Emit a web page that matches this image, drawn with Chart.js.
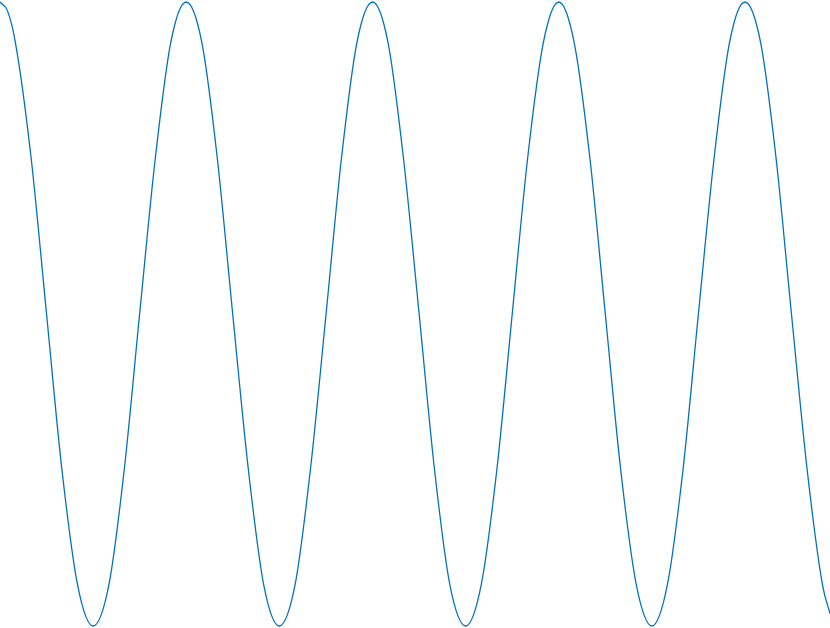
<!DOCTYPE html>
<html>
<head>
<meta charset="utf-8">
<script src="https://cdn.jsdelivr.net/npm/chart.js@4"></script>
<style>
  html, body { margin: 0; padding: 0; background: #ffffff; }
  .chart-container { width: 830px; height: 628px; position: relative; }
</style>
</head>
<body>
<div class="chart-container">
  <canvas id="wave"></canvas>
</div>
<script>
// values (x in radians, y amplitude)
const xValues = [
  0, 0.26, 0.52, 1.05, 1.57, 2.09, 2.62, 3.14, 3.67, 4.19, 4.71, 5.24, 5.76,
  6.28, 6.81, 7.33, 7.85, 8.38, 8.90, 9.42, 9.95, 10.47, 11.00, 11.52, 12.04,
  12.57, 13.09, 13.61, 14.14, 14.66, 15.18, 15.71, 16.23, 16.76, 17.28, 17.80, 18.33,
  18.85, 19.37, 19.90, 20.42, 20.94, 21.47, 21.99, 22.51, 23.04, 23.56, 24.09, 24.61,
  25.13, 25.66, 26.18, 26.70, 27.23, 27.75, 28
];
const yValues = [
  1, 0.97, 0.87, 0.5, 0, -0.5, -0.87, -1, -0.87, -0.5, 0, 0.5, 0.87,
  1, 0.87, 0.5, 0, -0.5, -0.87, -1, -0.87, -0.5, 0, 0.5, 0.87,
  1, 0.87, 0.5, 0, -0.5, -0.87, -1, -0.87, -0.5, 0, 0.5, 0.87,
  1, 0.87, 0.5, 0, -0.5, -0.87, -1, -0.87, -0.5, 0, 0.5, 0.87,
  1, 0.87, 0.5, 0, -0.5, -0.87, -0.96
];

const points = xValues.map((x, i) => ({ x: x, y: yValues[i] }));

const ctx = document.getElementById('wave').getContext('2d');
new Chart(ctx, {
  type: 'line',
  data: {
    datasets: [{
      data: points,
      borderColor: '#0072BD',
      borderWidth: 1.3,
      pointRadius: 0,
      fill: false,
      cubicInterpolationMode: 'monotone'
    }]
  },
  options: {
    responsive: true,
    maintainAspectRatio: false,
    animation: false,
    layout: { padding: { top: 2, bottom: 2, left: 0, right: 0 } },
    scales: {
      x: { type: 'linear', min: 0, max: 28, display: false },
      y: { min: -1, max: 1, display: false }
    },
    plugins: {
      legend: { display: false },
      tooltip: { enabled: false }
    },
    clip: false
  }
});
</script>
</body>
</html>
